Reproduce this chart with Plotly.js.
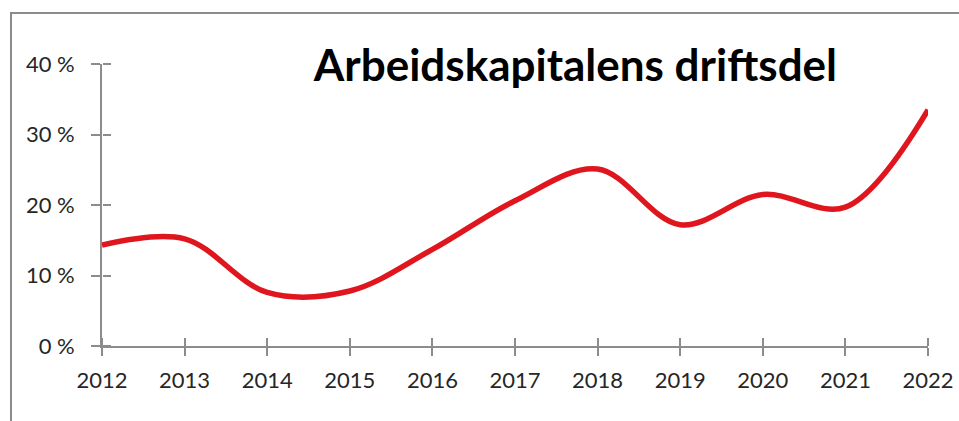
<!DOCTYPE html>
<html><head><meta charset="utf-8">
<script src="https://cdn.plot.ly/plotly-3.0.1.min.js"></script>
<style>
html,body{margin:0;padding:0;background:#fff;}
#wrap{position:relative;width:959px;height:421px;overflow:hidden;}
#frame{position:absolute;left:10px;top:12px;width:2000px;height:2000px;border-left:2px solid #8c8c8c;border-top:2px solid #8c8c8c;pointer-events:none;}
#chart{position:absolute;left:0;top:0;width:959px;height:421px;}
</style></head>
<body><div id="wrap"><div id="frame"></div><div id="chart"></div></div>
<script>
const years = [2012, 2013, 2014, 2015, 2016, 2017, 2018, 2019, 2020, 2021, 2022];
const values = [14.3, 15.2, 7.6, 7.8, 13.7, 20.6, 25.1, 17.2, 21.5, 19.7, 33.5];
const yTickVals = [0, 10, 20, 30, 40];
const yTickText = ['0\u202F%', '10\u202F%', '20\u202F%', '30\u202F%', '40\u202F%'];
const titleText = 'Arbeidskapitalens driftsdel';

const axisColor = '#8c8c8c';
const font = {family: 'Lato, "Open Sans", sans-serif', size: 22, color: '#262626'};

const traces = [{
  x: years, y: values, type: 'scatter', mode: 'lines',
  line: {color: '#E0161F', width: 5.5, shape: 'spline', smoothing: 1},
  hoverinfo: 'skip', cliponaxis: false
}, {
  x: years, y: values, type: 'scatter', mode: 'lines', xaxis: 'x2', yaxis: 'y2',
  line: {color: 'rgba(0,0,0,0)', width: 0}, hoverinfo: 'skip', showlegend: false
}];

const layout = {
  width: 959, height: 421,
  margin: {l: 102, r: 31, t: 64, b: 75},
  paper_bgcolor: 'rgba(0,0,0,0)', plot_bgcolor: 'rgba(0,0,0,0)',
  showlegend: false,
  font: font,
  title: {text: '<b>' + titleText + '</b>', x: 0.60, xanchor: 'center', y: 0.845, yanchor: 'middle',
    font: {family: 'Lato, "Open Sans", sans-serif', size: 44, color: '#000'}},
  xaxis: {range: [2012, 2022], tickvals: years, ticktext: years.map(String),
    showgrid: false, zeroline: false, showline: true, linecolor: axisColor, linewidth: 2,
    ticks: 'outside', ticklen: 8, tickwidth: 2, tickcolor: axisColor, ticklabelstandoff: 6,
    tickfont: font},
  yaxis: {range: [0, 40], tickvals: yTickVals, ticktext: yTickText,
    showgrid: false, zeroline: false, showline: true, linecolor: axisColor, linewidth: 2,
    ticks: 'outside', ticklen: 9, tickwidth: 2, tickcolor: axisColor, ticklabelstandoff: 12,
    tickfont: font},
  xaxis2: {overlaying: 'x', range: [2012, 2022], anchor: 'free', position: 0, side: 'top', tickmode: 'array', tickvals: years,
    showticklabels: false, showgrid: false, zeroline: false, showline: false,
    ticks: 'outside', ticklen: 8, tickwidth: 2, tickcolor: axisColor},
  yaxis2: {overlaying: 'y', range: [0, 40], anchor: 'free', position: 0, side: 'right', tickmode: 'array', tickvals: yTickVals,
    showticklabels: false, showgrid: false, zeroline: false, showline: false,
    ticks: 'outside', ticklen: 8, tickwidth: 2, tickcolor: axisColor}
};

Plotly.newPlot('chart', traces, layout, {staticPlot: true, displayModeBar: false});
</script></body></html>
